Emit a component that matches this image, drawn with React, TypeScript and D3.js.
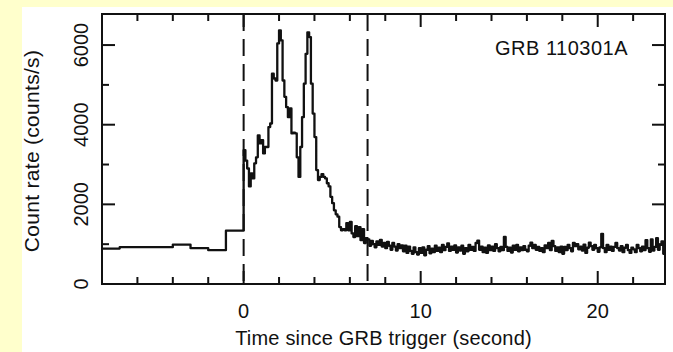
import React from 'react';
import * as d3 from 'd3';

const W = 673;
const H = 352;

// Light curve: pre-trigger 1 s bins, burst 0.1 s bins, tail 0.1 s bins
const preStart = -8;
const preWidth = 1;
const preCounts = [890, 925, 925, 925, 990, 900, 850, 1340];

const burstStart = 0;
const burstWidth = 0.1;
const burstCounts = [
  3360, 3100, 2900, 2450, 2780, 2650, 3030, 3180, 3730, 3530,
  3610, 3280, 3440, 3440, 3940, 4030, 5280, 5160, 5110, 6040,
  6370, 6120, 5110, 4700, 4440, 4190, 4410, 3780, 3800, 3780,
  3180, 2690, 3440, 4190, 5030, 5780, 6320, 6200, 5030, 4280,
  3690, 2860, 2610, 2690, 2760, 2690, 2650, 2530, 2450, 2190,
  2030, 1850, 1750, 1690, 1430, 1350, 1380, 1350, 1530, 1350,
  1560, 1270, 1180, 1450, 1200, 1430, 1100, 1380, 1030, 1150,
];

const tailStart = 7;
const tailWidth = 0.1;
const tailCounts = [
  1120, 960, 1080, 1000, 920, 1070, 980, 1110, 940, 1030,
  900, 1060, 960, 860, 1030, 940, 840, 1000, 900, 970,
  820, 960, 780, 940, 830, 760, 920, 800, 740, 900,
  780, 920, 720, 860, 950, 770, 890, 800, 960, 830,
  910, 800, 980, 850, 930, 1020, 830, 940, 860, 970,
  790, 920, 840, 960, 760, 900, 820, 980, 860, 930,
  830, 1030, 1090, 860, 940, 800, 910, 780, 970, 850,
  940, 830, 1000, 900, 820, 930, 850, 1180, 930, 830,
  910, 790, 960, 860, 980, 820, 920, 850, 950, 860,
  820, 960, 1040, 900, 980, 860, 930, 830, 900, 800,
  970, 900, 1030, 850, 1080, 950, 830, 920, 800, 940,
  760, 930, 850, 980, 900, 820, 1030, 950, 1000, 870,
  940, 840, 990, 780, 910, 1040, 950, 860, 980, 900,
  810, 920, 1260, 900, 800, 980, 860, 940, 830, 930,
  1030, 900, 840, 950, 800, 910, 980, 850, 780, 910,
  870, 800, 980, 900, 820, 940, 850, 1100, 900, 810,
  1120, 840, 930, 1150, 860, 980, 1070, 760, 900, 850,
];

const xTickLabels = [0, 10, 20];
const yTickLabels = [0, 2000, 4000, 6000];
const markerTimes = [0, 7];
const grbName = 'GRB 110301A';
const xTitle = 'Time since GRB trigger (second)';
const yTitle = 'Count rate (counts/s)';

export default function App() {
  const L = 102, T = 14, R = 665, B = 284;
  const x = d3.scaleLinear().domain([-8, 23.8]).range([L, R]);
  const y = d3.scaleLinear().domain([0, 6780]).range([B, T]);

  const pts: [number, number][] = [];
  const add = (s: number, w: number, vals: number[]) =>
    vals.forEach((v, i) => pts.push([s + i * w, v]));
  add(preStart, preWidth, preCounts);
  add(burstStart, burstWidth, burstCounts);
  add(tailStart, tailWidth, tailCounts);
  pts.push([tailStart + tailCounts.length * tailWidth, tailCounts[tailCounts.length - 1]]);

  const line = d3
    .line<[number, number]>()
    .x((d) => x(d[0]))
    .y((d) => y(d[1]))
    .curve(d3.curveStepAfter);

  const xMinor = d3.range(-8, 24, 2).filter((t) => t > -8 && t < 23.8 && !xTickLabels.includes(t));
  const yMinor = [1000, 3000, 5000];
  const font = '"Liberation Sans", Arial, Helvetica, sans-serif';
  const ink = '#111';

  return (
    <svg
      width={W}
      height={H}
      style={{ position: 'absolute', left: 0, top: 0 }}
      fontFamily={font}
    >
      <rect x={0} y={0} width={W} height={H} fill="#ffffcc" />
      <rect x={22} y={7} width={W - 22} height={H - 7} fill="#ffffff" />
      <defs>
        <clipPath id="plotclip">
          <rect x={L} y={T} width={R - L} height={B - T} />
        </clipPath>
      </defs>

      {markerTimes.map((t) => (
        <line
          key={'m' + t}
          x1={x(t)}
          x2={x(t)}
          y1={T}
          y2={B}
          stroke={ink}
          strokeWidth={2}
          strokeDasharray="17 8"
        />
      ))}

      <path
        d={line(pts) || ''}
        fill="none"
        stroke={ink}
        strokeWidth={2.3}
        strokeLinejoin="round"
        clipPath="url(#plotclip)"
      />

      {xTickLabels.map((t) => (
        <g key={'xt' + t}>
          <line x1={x(t)} x2={x(t)} y1={B} y2={B - 13} stroke={ink} strokeWidth={2} />
          <line x1={x(t)} x2={x(t)} y1={T} y2={T + 13} stroke={ink} strokeWidth={2} />
        </g>
      ))}
      {xMinor.map((t) => (
        <g key={'xm' + t}>
          <line x1={x(t)} x2={x(t)} y1={B} y2={B - 7} stroke={ink} strokeWidth={2} />
          <line x1={x(t)} x2={x(t)} y1={T} y2={T + 7} stroke={ink} strokeWidth={2} />
        </g>
      ))}
      {yTickLabels.map((v) => (
        <g key={'yt' + v}>
          <line x1={L} x2={L + 13} y1={y(v)} y2={y(v)} stroke={ink} strokeWidth={2} />
          <line x1={R} x2={R - 13} y1={y(v)} y2={y(v)} stroke={ink} strokeWidth={2} />
        </g>
      ))}
      {yMinor.map((v) => (
        <g key={'ym' + v}>
          <line x1={L} x2={L + 7} y1={y(v)} y2={y(v)} stroke={ink} strokeWidth={2} />
          <line x1={R} x2={R - 7} y1={y(v)} y2={y(v)} stroke={ink} strokeWidth={2} />
        </g>
      ))}

      <rect x={L} y={T} width={R - L} height={B - T} fill="none" stroke={ink} strokeWidth={2} />

      {xTickLabels.map((t) => (
        <text key={'xl' + t} x={x(t)} y={318} textAnchor="middle" fontSize={20} fill={ink}>
          {t}
        </text>
      ))}
      {yTickLabels.map((v) => (
        <text
          key={'yl' + v}
          transform={`translate(88,${y(v)}) rotate(-90)`}
          textAnchor="middle"
          fontSize={20}
          fill={ink}
        >
          {v}
        </text>
      ))}
      <text x={(L + R) / 2} y={345} textAnchor="middle" fontSize={20} letterSpacing={0.2} fill={ink}>
        {xTitle}
      </text>
      <text
        transform={`translate(38.5,151) rotate(-90)`}
        textAnchor="middle"
        fontSize={21}
        letterSpacing={0.3}
        fill={ink}
      >
        {yTitle}
      </text>
      <text x={495} y={55} fontSize={20} letterSpacing={0.5} fill={ink}>
        {grbName}
      </text>
    </svg>
  );
}
